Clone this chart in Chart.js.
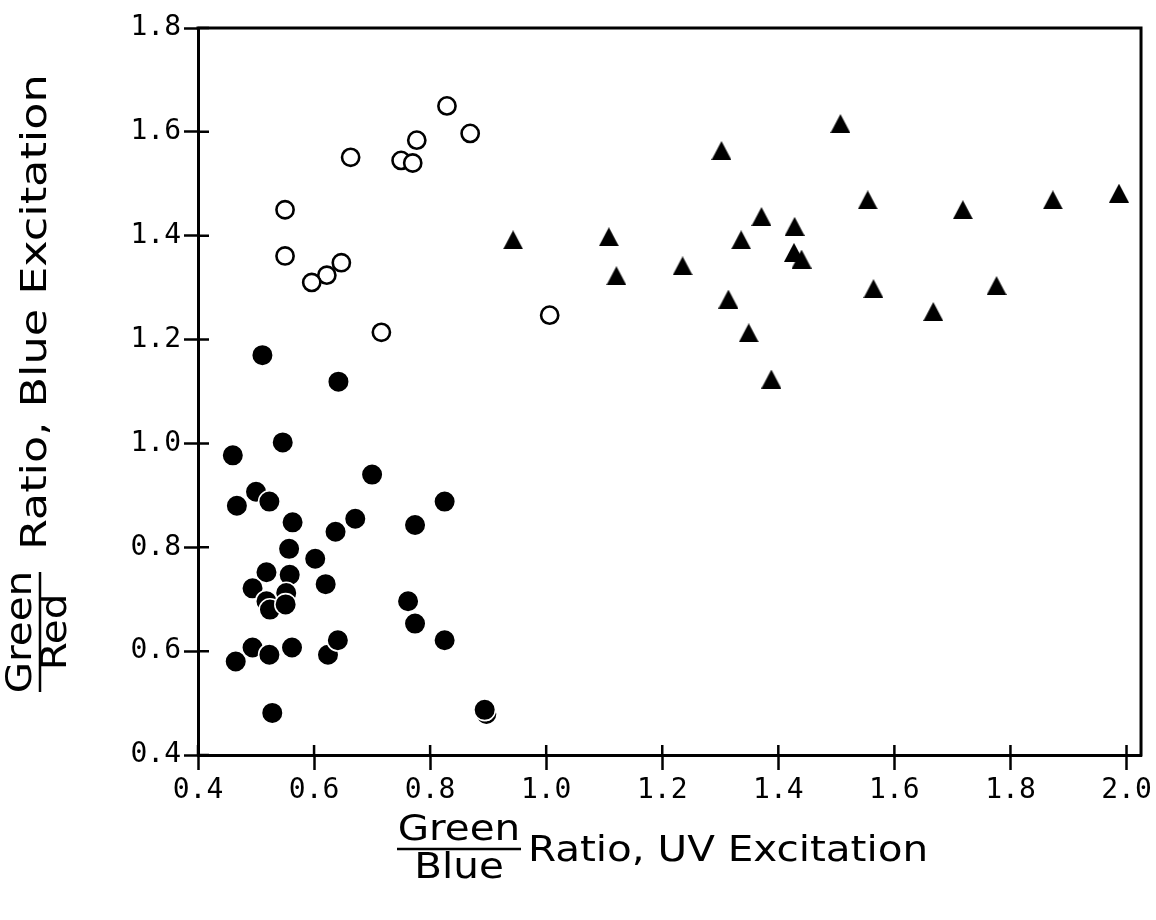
<!DOCTYPE html>
<html>
<head>
<meta charset="utf-8">
<script src="https://cdn.jsdelivr.net/npm/chart.js@4"></script>
<style>
  html, body { margin: 0; padding: 0; background: #fff; }
  #c { display: block; }
</style>
</head>
<body>
<canvas id="c" width="1156" height="920"></canvas>
<script>
// ---- data ----
const filledX = [0.460, 0.546, 0.700, 0.500, 0.467, 0.523, 0.825, 0.563, 0.671, 0.637, 0.774, 0.557, 0.602, 0.518, 0.558, 0.620, 0.494, 0.552, 0.518, 0.524, 0.551, 0.762, 0.774, 0.825, 0.624, 0.641, 0.465, 0.494, 0.562, 0.523, 0.528, 0.894, 0.511, 0.642];
const filledY = [0.977, 1.002, 0.940, 0.907, 0.880, 0.888, 0.888, 0.848, 0.855, 0.830, 0.843, 0.797, 0.778, 0.752, 0.747, 0.729, 0.721, 0.712, 0.696, 0.680, 0.690, 0.696, 0.653, 0.621, 0.593, 0.621, 0.580, 0.607, 0.607, 0.593, 0.481, 0.487, 1.170, 1.119];

const openX = [0.829, 0.869, 0.777, 0.750, 0.770, 0.663, 0.550, 0.550, 0.622, 0.647, 0.596, 0.716, 1.006, 0.897];
const openY = [1.650, 1.597, 1.584, 1.545, 1.540, 1.551, 1.450, 1.361, 1.324, 1.348, 1.310, 1.214, 1.247, 0.479];

const triX = [1.302, 1.507, 1.371, 1.428, 1.336, 0.943, 1.108, 1.427, 1.440, 1.235, 1.121, 1.314, 1.349, 1.388, 1.554, 1.718, 1.873, 1.987, 1.564, 1.776, 1.667];
const triY = [1.564, 1.616, 1.437, 1.418, 1.392, 1.392, 1.398, 1.368, 1.355, 1.342, 1.323, 1.278, 1.213, 1.124, 1.469, 1.450, 1.469, 1.482, 1.298, 1.304, 1.254];

const xTicks = [0.4, 0.6, 0.8, 1.0, 1.2, 1.4, 1.6, 1.8, 2.0];
const yTicks = [0.4, 0.6, 0.8, 1.0, 1.2, 1.4, 1.6, 1.8];

const xTitleTop = 'Green', xTitleBottom = 'Blue', xTitleRest = 'Ratio, UV Excitation';
const yTitleTop = 'Green', yTitleBottom = 'Red', yTitleRest = 'Ratio, Blue Excitation';

// ---- helpers ----
function pts(xs, ys) { return xs.map((x, i) => ({ x: x, y: ys[i] })); }

function triangleImage(w, h) {
  const cv = document.createElement('canvas');
  cv.width = w; cv.height = h;
  const g = cv.getContext('2d');
  g.fillStyle = '#000';
  g.beginPath();
  g.moveTo(w / 2, 0);
  g.lineTo(w, h);
  g.lineTo(0, h);
  g.closePath();
  g.fill();
  return cv;
}
const triStyle = triangleImage(20, 19);

const BLACK = '#000';
const tickFont = { family: '"DejaVu Sans Mono", monospace', size: 28 };
const titleFont = '45px "DejaVu Sans Condensed", "DejaVu Sans", sans-serif';
const SQUASH = 0.8;

function squashedText(ctx, text, x, y, rot, align, stretch) {
  ctx.save();
  ctx.translate(x, y);
  if (rot) ctx.rotate(rot);
  ctx.scale(stretch || 1, SQUASH);
  ctx.textAlign = align;
  ctx.textBaseline = 'middle';
  ctx.fillText(text, 0, 0);
  ctx.restore();
}

// plugin: frame, inner tick halves, axis titles with fractions
const decor = {
  id: 'decor',
  afterDraw(chart) {
    const ctx = chart.ctx;
    const a = chart.chartArea;
    const xs = chart.scales.x, ys = chart.scales.y;
    ctx.save();
    ctx.strokeStyle = BLACK;
    // frame top and right
    ctx.lineWidth = 3;
    ctx.beginPath();
    ctx.moveTo(a.left - 1.5, a.top);
    ctx.lineTo(a.right, a.top);
    ctx.lineTo(a.right, a.bottom + 1.5);
    ctx.stroke();
    // inner parts of ticks
    ctx.lineWidth = 2.5;
    ctx.beginPath();
    xTicks.forEach(v => {
      const px = xs.getPixelForValue(v);
      ctx.moveTo(px, a.bottom);
      ctx.lineTo(px, a.bottom - 10);
    });
    yTicks.forEach(v => {
      const py = ys.getPixelForValue(v);
      ctx.moveTo(a.left, py);
      ctx.lineTo(a.left + 11, py);
    });
    ctx.stroke();

    // x title
    ctx.fillStyle = BLACK;
    ctx.font = titleFont;
    const fx = 459;
    squashedText(ctx, xTitleTop, fx, 831, 0, 'center');
    squashedText(ctx, xTitleBottom, fx, 869, 0, 'center');
    ctx.lineWidth = 2.5;
    ctx.beginPath();
    ctx.moveTo(397, 849);
    ctx.lineTo(521, 849);
    ctx.stroke();
    squashedText(ctx, xTitleRest, 528, 852, 0, 'left');

    // y title (rotated)
    const fy = 632;
    const rot = -Math.PI / 2;
    squashedText(ctx, yTitleTop, 22, fy, rot, 'center');
    squashedText(ctx, yTitleBottom, 57, fy, rot, 'center');
    ctx.beginPath();
    ctx.moveTo(40, fy - 60);
    ctx.lineTo(40, fy + 60);
    ctx.stroke();
    squashedText(ctx, yTitleRest, 37, 550, rot, 'left', 1.1);

    ctx.restore();
  }
};

new Chart(document.getElementById('c'), {
  type: 'scatter',
  data: {
    datasets: [
      {
        label: 'filled',
        data: pts(filledX, filledY),
        pointStyle: 'circle',
        pointRadius: 10.8,
        pointBackgroundColor: BLACK,
        pointBorderColor: '#fff',
        pointBorderWidth: 1.6
      },
      {
        label: 'open',
        data: pts(openX, openY),
        pointStyle: 'circle',
        pointRadius: 8.6,
        pointBackgroundColor: '#fff',
        pointBorderColor: BLACK,
        pointBorderWidth: 2.6
      },
      {
        label: 'triangles',
        data: pts(triX, triY),
        pointStyle: triStyle,
        pointRadius: 10
      }
    ]
  },
  options: {
    responsive: false,
    animation: false,
    devicePixelRatio: 1,
    layout: { padding: { top: 28, right: 13, left: 0, bottom: 0 } },
    plugins: {
      legend: { display: false },
      tooltip: { enabled: false },
      title: { display: false }
    },
    elements: { point: { hoverRadius: 10 } },
    scales: {
      x: {
        type: 'linear',
        min: 0.4,
        max: 2.025,
        afterBuildTicks: s => { s.ticks = xTicks.map(v => ({ value: v })); },
        afterFit: s => { s.height = 165; },
        grid: {
          drawOnChartArea: false,
          drawTicks: true,
          tickLength: 15,
          tickWidth: 2.5,
          color: BLACK
        },
        border: { display: true, color: BLACK, width: 3 },
        ticks: {
          color: BLACK,
          font: tickFont,
          padding: 4,
          maxRotation: 0,
          callback: v => v.toFixed(1)
        }
      },
      y: {
        type: 'linear',
        min: 0.4,
        max: 1.8,
        afterBuildTicks: s => { s.ticks = yTicks.map(v => ({ value: v })); },
        afterFit: s => { s.width = 198; },
        grid: {
          drawOnChartArea: false,
          drawTicks: true,
          tickLength: 14,
          tickWidth: 2.5,
          color: BLACK
        },
        border: { display: true, color: BLACK, width: 3 },
        ticks: {
          color: BLACK,
          font: tickFont,
          padding: 3,
          callback: v => v.toFixed(1)
        }
      }
    }
  },
  plugins: [decor]
});
</script>
</body>
</html>
